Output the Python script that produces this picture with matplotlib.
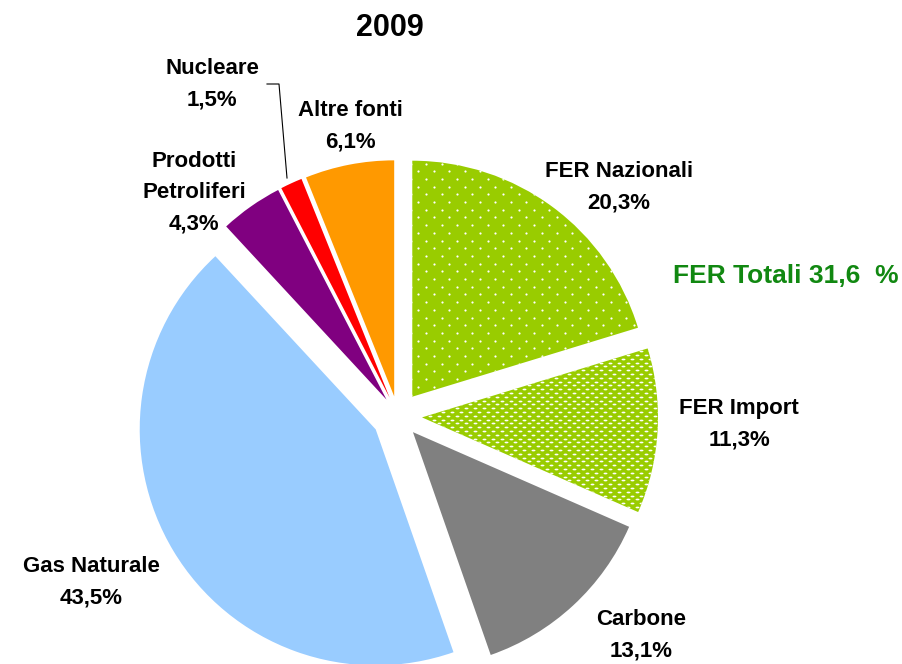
import matplotlib
matplotlib.use("Agg")
import matplotlib.pyplot as plt
import numpy as np
from matplotlib.path import Path

plt.rcParams["font.family"] = ["Liberation Sans", "DejaVu Sans"]

# data, clockwise from 12 o'clock
labels = ["FER Nazionali", "FER Import", "Carbone", "Gas Naturale",
          "Prodotti\nPetroliferi", "Nucleare", "Altre fonti"]
values = [20.3, 11.3, 13.1, 43.5, 4.3, 1.5, 6.1]
value_labels = ["20,3%", "11,3%", "13,1%", "43,5%", "4,3%", "1,5%", "6,1%"]
colors = ["#99cc00", "#99cc00", "#808080", "#99ccff", "#800080", "#ff0000", "#ff9900"]
title = "2009"
fer_total = "FER Totali 31,6  %"

# canvas in pixels, y measured upward
W, H = 902, 664
fig = plt.figure(figsize=(W / 100, H / 100), dpi=100)
ax = fig.add_axes([0, 0, 1, 1])

explode = [24, 24, 22, 26, 20, 20, 20]  # pie() takes explode in data units
wedges, _ = ax.pie(values, colors=colors, explode=explode, startangle=90,
                   counterclock=False, center=(398, H - 416), radius=236,
                   wedgeprops=dict(linewidth=0))

ax.set_xlim(0, W)
ax.set_ylim(0, H)
ax.set_aspect("equal")
ax.axis("off")


def dot_fill(wedge, dx, dy, size, marker):
    """White staggered dot texture clipped to one wedge."""
    xs, ys = [], []
    for i, y in enumerate(np.arange(100, 560, dy)):
        row = np.arange(380 + (i % 2) * dx / 2, 700, dx)
        xs.extend(row)
        ys.extend([y] * len(row))
    sc = ax.scatter(xs, ys, s=size, c="white", marker=marker, linewidths=0, zorder=3)
    sc.set_clip_path(wedge)


ellipse = Path(Path.unit_circle().vertices * [1.0, 0.45], Path.unit_circle().codes)
dot_fill(wedges[0], 15.4, 7.7, 2.5, "o")
dot_fill(wedges[1], 9.0, 3.8, 8.0, ellipse)

ax.text(390, H - 28, title, ha="center", va="center", fontsize=22, fontweight="bold")

label_pos = [(619, 187), (739, 424), (641, 635), (91, 582), (194, 193), (212, 84), (350, 126)]
for (x, y), lab, val in zip(label_pos, labels, value_labels):
    ax.text(x, H - y, lab + "\n" + val, ha="center", va="center", fontsize=16,
            fontweight="bold", linespacing=1.65, multialignment="center")

ax.text(899, H - 276, fer_total, ha="right", va="center", fontsize=19,
        fontweight="bold", color="#118811")

# leader line for Nucleare
ax.plot([267, 279, 287], [H - 84, H - 84, H - 178], color="black", linewidth=0.8)

fig.savefig("out.png", dpi=100)
